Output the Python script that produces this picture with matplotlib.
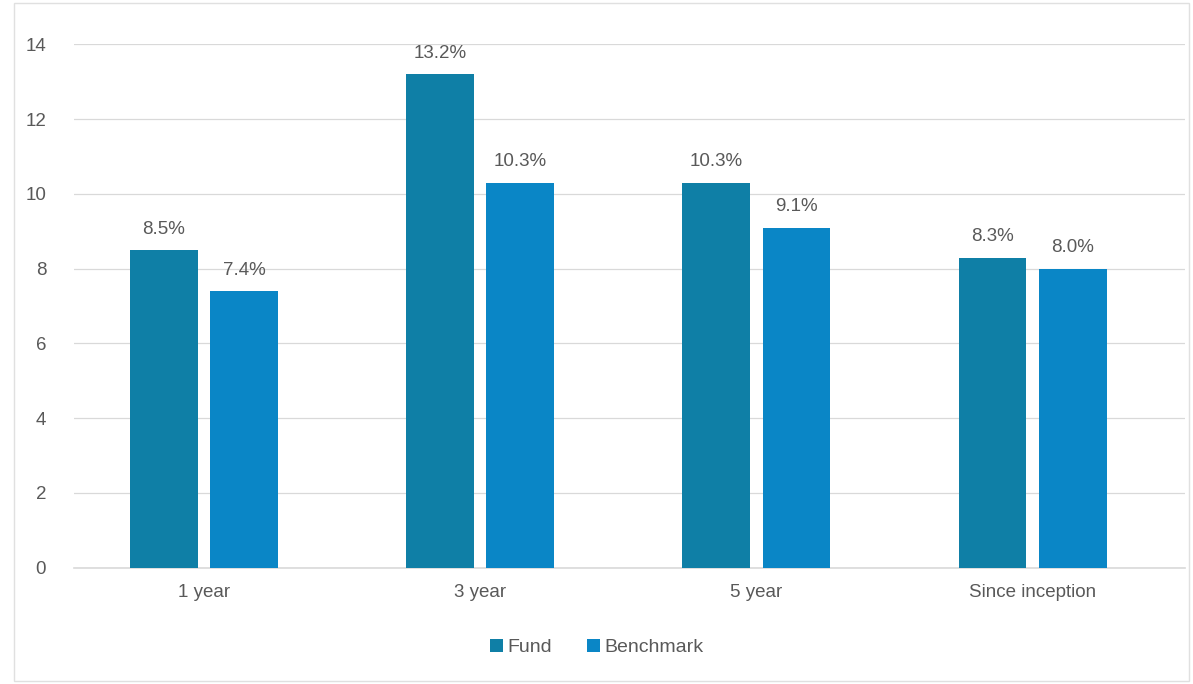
import matplotlib.pyplot as plt
import numpy as np
from matplotlib.patches import Rectangle

plt.rcParams['font.family'] = ['Liberation Sans', 'DejaVu Sans']

# Data
periods = ["1 year", "3 year", "5 year", "Since inception"]
fund = [8.5, 13.2, 10.3, 8.3]
benchmark = [7.4, 10.3, 9.1, 8.0]

fund_color = '#0f7fa6'
bench_color = '#0a86c6'
text_color = '#595959'

fig = plt.figure(figsize=(11.93, 6.84), dpi=100)
ax = fig.add_axes([0.062, 0.17, 0.931, 0.765])

x = np.arange(len(periods))
w = 0.245
gap = 0.045
b1 = ax.bar(x - (w + gap) / 2, fund, w, color=fund_color, label="Fund", zorder=3)
b2 = ax.bar(x + (w + gap) / 2, benchmark, w, color=bench_color, label="Benchmark", zorder=3)

for bars in (b1, b2):
    for rect in bars:
        h = rect.get_height()
        ax.annotate(f"{h:.1f}%", (rect.get_x() + rect.get_width() / 2, h),
                    xytext=(0, 9), textcoords='offset points',
                    ha='center', va='bottom', fontsize=13.5, color=text_color)

ax.set_xlim(-0.47, len(periods) - 0.45)
ax.set_ylim(0, 14)
ax.set_yticks(range(0, 15, 2))
ax.set_xticks(x)
ax.set_xticklabels(periods)
ax.tick_params(axis='both', length=0, labelsize=13.5, colors=text_color)
ax.tick_params(axis='y', pad=20)
ax.tick_params(axis='x', pad=12)
ax.grid(axis='y', color='#d9d9d9', linewidth=0.9, zorder=0)
ax.axhline(0, color='#d9d9d9', linewidth=1.2, zorder=1, clip_on=False)
for s in ax.spines.values():
    s.set_visible(False)

leg = fig.legend(loc='lower center', bbox_to_anchor=(0.5, 0.015), ncol=2, frameon=False,
                 fontsize=14, handlelength=0.7, handleheight=0.7, handletextpad=0.2,
                 columnspacing=1.8)
for t in leg.get_texts():
    t.set_color(text_color)

# faint outer chart border
fig.patches.append(Rectangle((0.012, 0.005), 0.985, 0.99, transform=fig.transFigure,
                             fill=False, edgecolor='#e0e0e0', linewidth=1))

plt.savefig("out.png", dpi=100)
